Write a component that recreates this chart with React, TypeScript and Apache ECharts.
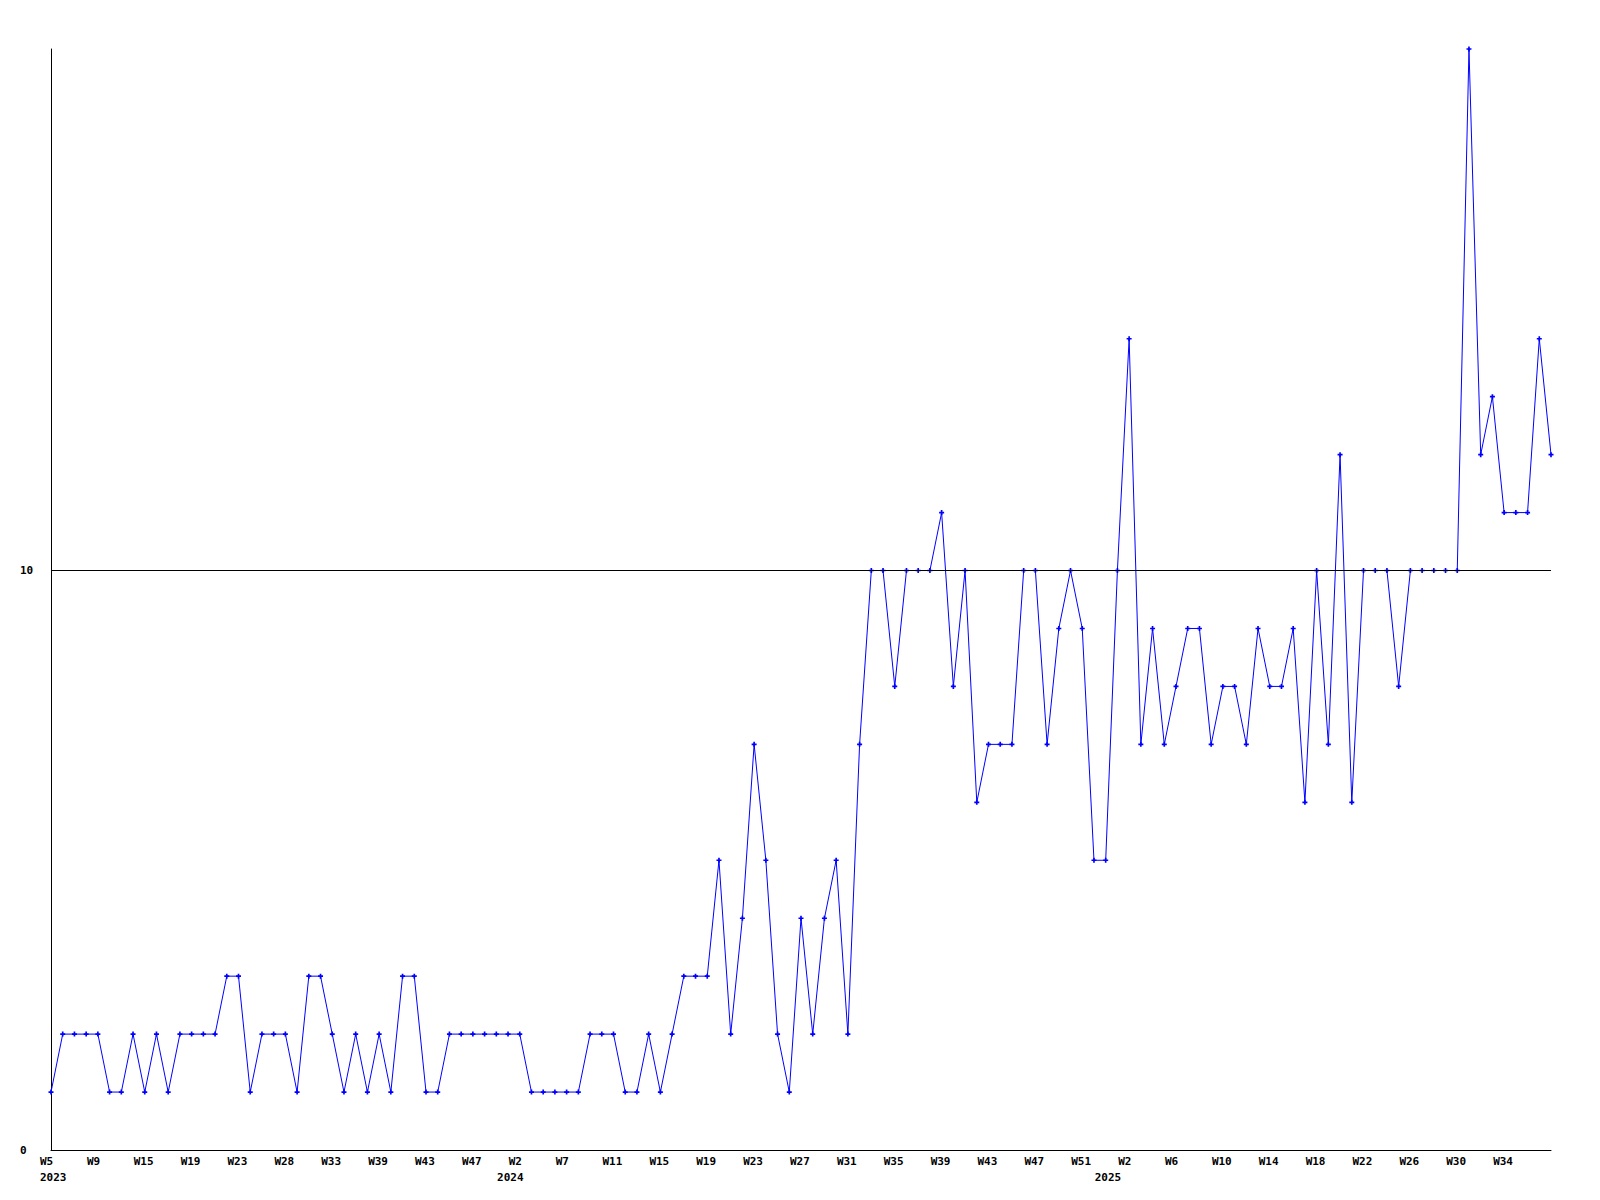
import React, { useEffect, useRef } from "react";
import * as echarts from "echarts";

// Weekly values, one per week point (129 points)
const values: number[] = [
  1, 2, 2, 2, 2, 1, 1, 2, 1, 2,
  1, 2, 2, 2, 2, 3, 3, 1, 2, 2,
  2, 1, 3, 3, 2, 1, 2, 1, 2, 1,
  3, 3, 1, 1, 2, 2, 2, 2, 2, 2,
  2, 1, 1, 1, 1, 1, 2, 2, 2, 1,
  1, 2, 1, 2, 3, 3, 3, 5, 2, 4,
  7, 5, 2, 1, 4, 2, 4, 5, 2, 7,
  10, 10, 8, 10, 10, 10, 11, 8, 10, 6,
  7, 7, 7, 10, 10, 7, 9, 10, 9, 5,
  5, 10, 14, 7, 9, 7, 8, 9, 9, 7,
  8, 8, 7, 9, 8, 8, 9, 6, 10, 7,
  12, 6, 10, 10, 10, 8, 10, 10, 10, 10,
  10, 19, 12, 13, 11, 11, 11, 14, 12,
];

// Week tick labels shown every 4th point
const tickLabels: string[] = [
  "W5", "W9", "W15", "W19", "W23", "W28", "W33", "W39", "W43", "W47",
  "W2", "W7", "W11", "W15", "W19", "W23", "W27", "W31", "W35", "W39",
  "W43", "W47", "W51", "W2", "W6", "W10", "W14", "W18", "W22", "W26",
  "W30", "W34",
];

// Year labels under the first point of each year (point index -> year)
const yearIndices: number[] = [0, 39, 90];
const yearLabels: string[] = ["2023", "2024", "2025"];

const referenceLevel = 10;
const yMax = 19;

const FONT = "'DejaVu Sans Mono', 'Liberation Mono', monospace";

const richLabel = {
  a: {
    width: 22,
    align: "left",
    fontFamily: FONT,
    fontWeight: "bold",
    fontSize: 11,
    lineHeight: 16,
    color: "#000",
  },
};

export default function App() {
  const ref = useRef<HTMLDivElement>(null);

  useEffect(() => {
    if (!ref.current) return;
    const chart = echarts.init(ref.current, undefined, { renderer: "svg" });
    const categories = values.map((_, i) => String(i));

    chart.setOption({
      animation: false,
      backgroundColor: "#ffffff",
      grid: { left: 51, right: 49, top: 49, bottom: 50, containLabel: false },
      xAxis: [
        {
          type: "category",
          data: categories,
          boundaryGap: false,
          axisLine: { show: true, lineStyle: { color: "#000", width: 1 } },
          axisTick: { show: false },
          splitLine: { show: false },
          axisLabel: {
            interval: 3,
            margin: 3,
            formatter: (_v: string, index: number) => {
              if (index % 4 !== 0) return "";
              const lbl = tickLabels[index / 4] ?? "";
              return lbl ? `{a|${lbl}}` : "";
            },
            rich: richLabel,
          },
        },
        {
          type: "category",
          data: categories,
          boundaryGap: false,
          position: "bottom",
          axisLine: { show: false },
          axisTick: { show: false },
          splitLine: { show: false },
          axisLabel: {
            interval: 0,
            margin: 19,
            formatter: (_v: string, index: number) => {
              const yi = yearIndices.indexOf(index);
              return yi >= 0 ? `{a|${yearLabels[yi]}}` : "";
            },
            rich: richLabel,
          },
        },
      ],
      yAxis: {
        type: "value",
        min: 0,
        max: yMax,
        interval: 10,
        axisLine: { show: true, lineStyle: { color: "#000", width: 1 } },
        axisTick: { show: false },
        splitLine: { show: false },
        axisLabel: {
          showMaxLabel: false,
          align: "left",
          margin: 31,
          fontFamily: FONT,
          fontWeight: "bold",
          fontSize: 11,
          color: "#000",
        },
      },
      series: [
        {
          type: "line",
          xAxisIndex: 0,
          data: values,
          symbol: "path://M2,0H4V2H6V4H4V6H2V4H0V2H2Z",
          symbolSize: 5,
          showAllSymbol: true,
          lineStyle: { color: "#0000ff", width: 1 },
          itemStyle: { color: "#0000ff", borderWidth: 0 },
          markLine: {
            silent: true,
            symbol: ["none", "none"],
            label: { show: false },
            lineStyle: { color: "#000", width: 1, type: "solid" },
            data: [{ yAxis: referenceLevel }],
          },
        },
      ],
    });

    return () => chart.dispose();
  }, []);

  return (
    <div
      ref={ref}
      style={{ position: "fixed", left: 0, top: 0, width: 1600, height: 1200, background: "#fff" }}
    />
  );
}
